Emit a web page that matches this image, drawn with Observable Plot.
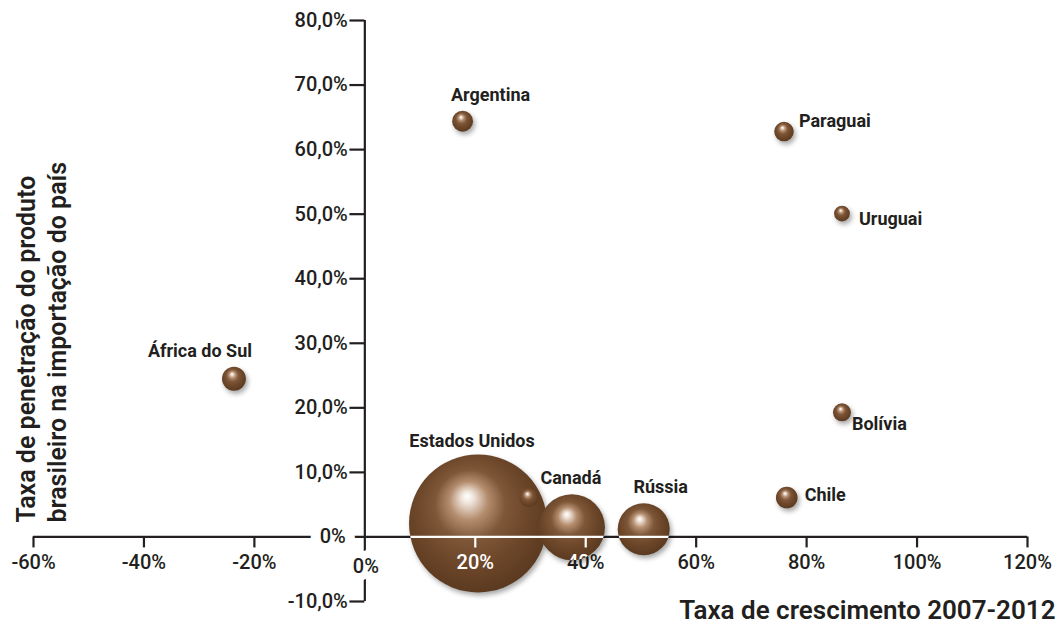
<!DOCTYPE html>
<html><head><meta charset="utf-8">
<script src="https://cdn.jsdelivr.net/npm/d3@7"></script>
<script src="https://cdn.jsdelivr.net/npm/@observablehq/plot@0.6"></script>
<style>
html,body{margin:0;padding:0;background:#fff;}
#chart svg{display:block;}
</style></head><body><div id="chart"></div>
<script>
// ---- data ----
const paises      = ["África do Sul","Argentina","Paraguai","Uruguai","Bolívia","Chile","Estados Unidos","Canadá","Rússia",""];
const crescimento = [-23.7, 17.7, 75.9, 86.4, 86.4, 76.4, 20.5, 37.5, 50.5, 29.7];   // %
const penetracao  = [ 24.5, 64.4, 62.8, 50.1, 19.3,  6.1,  2.1,  1.5,  1.2,  6.1];   // %
const tamanho     = [ 3.0,  2.3,  2.0,  1.3,  1.7,  2.45, 100,  22.9, 14.2, 1.9];   // relative volume
const xTicks = [-60,-40,-20,20,40,60,80,100,120];
const yTicks = [-10,10,20,30,40,50,60,70,80];
const xTitle = "Taxa de crescimento 2007-2012";
const yTitle = "Taxa de penetração do produto\nbrasileiro na importação do país";

// ---- layout (label placement relative to bubble) ----
const labelLayout = {
  "África do Sul":  {anchor:"middle", dx:-34, dy:-28},
  "Argentina":      {anchor:"middle", dx: 28, dy:-26},
  "Paraguai":       {anchor:"start",  dx: 15, dy:-10},
  "Uruguai":        {anchor:"start",  dx: 17, dy:  6},
  "Bolívia":        {anchor:"start",  dx: 10, dy: 12},
  "Chile":          {anchor:"start",  dx: 18, dy: -2},
  "Estados Unidos": {anchor:"middle", dx: -6, dy:-82},
  "Canadá":         {anchor:"middle", dx: -1, dy:-49},
  "Rússia":         {anchor:"middle", dx: 17, dy:-42}
};

const data = paises.map((p,i)=>({pais:p, x:crescimento[i], y:penetracao[i], s:tamanho[i]}));
const ink = "#231f20";
const font = "Roboto, 'Open Sans', sans-serif";
const fmtX = d => `${d}%`;
const fmtY = d => (d < 0 ? "-" : "") + Math.abs(d).toFixed(1).replace(".", ",") + "%";

const axisLines = (stroke, extra={}) => [
  Plot.ruleY([0], {x1:-60, x2:120, stroke, strokeWidth:2.2, ...extra}),
  Plot.ruleX(xTicks, {x:d=>d, y1:0, y2:-1.7, stroke, strokeWidth:2.2, ...extra}),
  Plot.text(xTicks, {x:d=>d, y:0, text:fmtX, dy:26, fontSize:20, fontWeight:500, fill: stroke, ...extra})
];

const labelMarks = data.filter(d => d.pais).map(d => {
  const L = labelLayout[d.pais];
  return Plot.text([d], {x:"x", y:"y", text:"pais", dx:L.dx, dy:L.dy, textAnchor:L.anchor,
    fontSize:18, fontWeight:"bold", fill:ink});
});

const chart = Plot.plot({
  width:1064, height:627, margin:0,
  style:{fontFamily:font, background:"#fff"},
  x:{domain:[-60,120], range:[33,1027], axis:null},
  y:{domain:[-10,80], range:[601,20], axis:null},
  r:{type:"sqrt", domain:[0,100], range:[0,69]},
  marks:[
    Plot.ruleX([0], {y1:-10, y2:80, stroke:ink, strokeWidth:2.2}),
    ...axisLines(ink),
    Plot.ruleY(yTicks, {y:d=>d, x1:0, x2:-2.7, stroke:ink, strokeWidth:2.2}),
    Plot.text(yTicks, {x:0, y:d=>d, text:fmtY, dx:-17, textAnchor:"end", fontSize:20, fontWeight:500, fill:ink}),
    Plot.text([0], {x:0, y:0, text:d=>fmtX(d), dx:-19, textAnchor:"end", fontSize:20, fontWeight:500, fill:ink,
      stroke:"white", strokeWidth:20, paintOrder:"stroke", strokeLinejoin:"round"}),
    Plot.text([0], {x:0, y:0, text:d=>fmtX(d), dx:1, dy:30, fontSize:20, fontWeight:500, fill:ink,
      stroke:"white", strokeWidth:16, paintOrder:"stroke", strokeLinejoin:"round"}),
    Plot.dot(data, {x:"x", y:"y", r:"s", fill:"url(#ball)", stroke:"none", ariaDescription:"bubbles"}),
    ...axisLines("white", {ariaDescription:"overlay"}),
    ...labelMarks,
    Plot.text([xTitle], {frameAnchor:"bottom-right", dx:-9, dy:-17, textAnchor:"end", lineAnchor:"middle",
      fontSize:26, fontWeight:600, fill:ink}),
    Plot.text([yTitle], {frameAnchor:"bottom-left", dx:40, dy:-105, rotate:-90, textAnchor:"start",
      lineAnchor:"middle", lineHeight:1.24, fontSize:25, fontWeight:600, fill:ink})
  ]
});
document.getElementById("chart").appendChild(chart);

// ---- gradient, shadow and clipping of the white axis over bubbles ----
const svg = d3.select(chart);
const defs = svg.insert("defs", ":first-child");
const g = defs.append("radialGradient").attr("id","ball")
  .attr("cx","0.47").attr("cy","0.45").attr("r","0.58").attr("fx","0.42").attr("fy","0.3");
[[0,"#ffffff"],[0.07,"#f1e7de"],[0.24,"#b48d6e"],[0.44,"#7e5638"],[0.7,"#6c4629"],[0.9,"#5f3d22"],[1,"#57381f"]]
  .forEach(([o,c]) => g.append("stop").attr("offset",o).attr("stop-color",c));

const bubbleG = chart.querySelector('[aria-description="bubbles"]');
if (bubbleG) {
  bubbleG.style.filter = "drop-shadow(2px 3px 2.5px rgba(0,0,0,0.35))";
  const cp = defs.append("clipPath").attr("id","bclip").attr("clipPathUnits","userSpaceOnUse");
  bubbleG.querySelectorAll("circle").forEach(c => {
    const cl = c.cloneNode(true);
    if (bubbleG.getAttribute("transform")) cl.setAttribute("transform", bubbleG.getAttribute("transform"));
    cp.node().appendChild(cl);
  });
  const overlays = chart.querySelectorAll('[aria-description="overlay"]');
  if (overlays.length) {
    const wrap = document.createElementNS("http://www.w3.org/2000/svg","g");
    wrap.setAttribute("clip-path","url(#bclip)");
    overlays[0].parentNode.insertBefore(wrap, overlays[0]);
    overlays.forEach(o => wrap.appendChild(o));
  }
}
</script></body></html>
